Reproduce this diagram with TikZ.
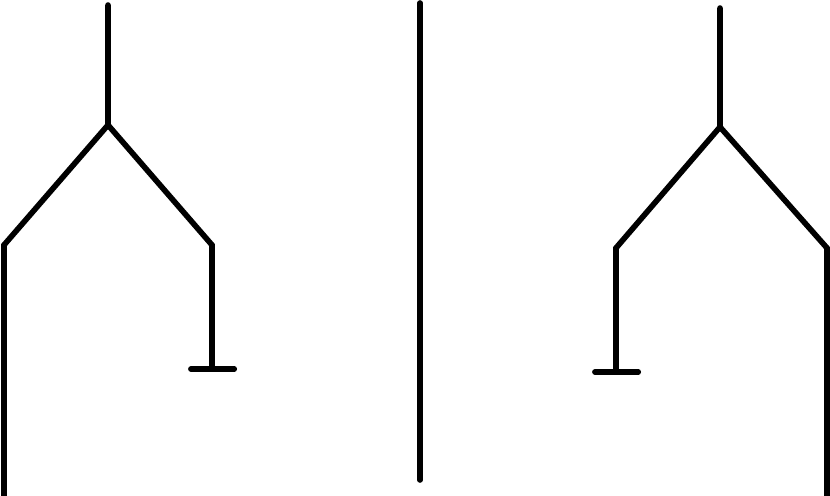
\documentclass[tikz,border=0pt]{standalone}
\usepackage{tikz}
\usetikzlibrary{positioning}

\begin{document}
\begin{tikzpicture}[x=0.03cm,y=-0.03cm,
        wire/.style={line width=4.8pt,line cap=round,line join=miter}]
        \useasboundingbox (0,0) rectangle (830,495);
        % left fork
        \coordinate (ltop) at (108,5);
        \coordinate (lsplit) at (108,125);
        \coordinate (lbendl) at (4,245);
        \coordinate (lfoot) at (4,497);
        \coordinate (lbendr) at (212,245);
        \coordinate (lground) at (212,369);
        \draw[wire] (ltop)--(lsplit)--(lbendl)--(lfoot);
        \draw[wire] (lsplit)--(lbendr)--(lground);
        \draw[wire] ([xshift=-18]lground)--([xshift=19]lground);
        % middle line
        \coordinate (mtop) at (420,3);
        \coordinate (mbottom) at (420,480);
        \draw[wire] (mtop)--(mbottom);
        % right fork
        \coordinate (rtop) at (720,8);
        \coordinate (rsplit) at (720,127);
        \coordinate (rbendl) at (616,248);
        \coordinate (rground) at (616,372);
        \coordinate (rbendr) at (827,248);
        \coordinate (rfoot) at (827,497);
        \draw[wire] (rtop)--(rsplit)--(rbendr)--(rfoot);
        \draw[wire] (rsplit)--(rbendl)--(rground);
        \draw[wire] ([xshift=-18]rground)--([xshift=19]rground);
    \end{tikzpicture}
\end{document}
